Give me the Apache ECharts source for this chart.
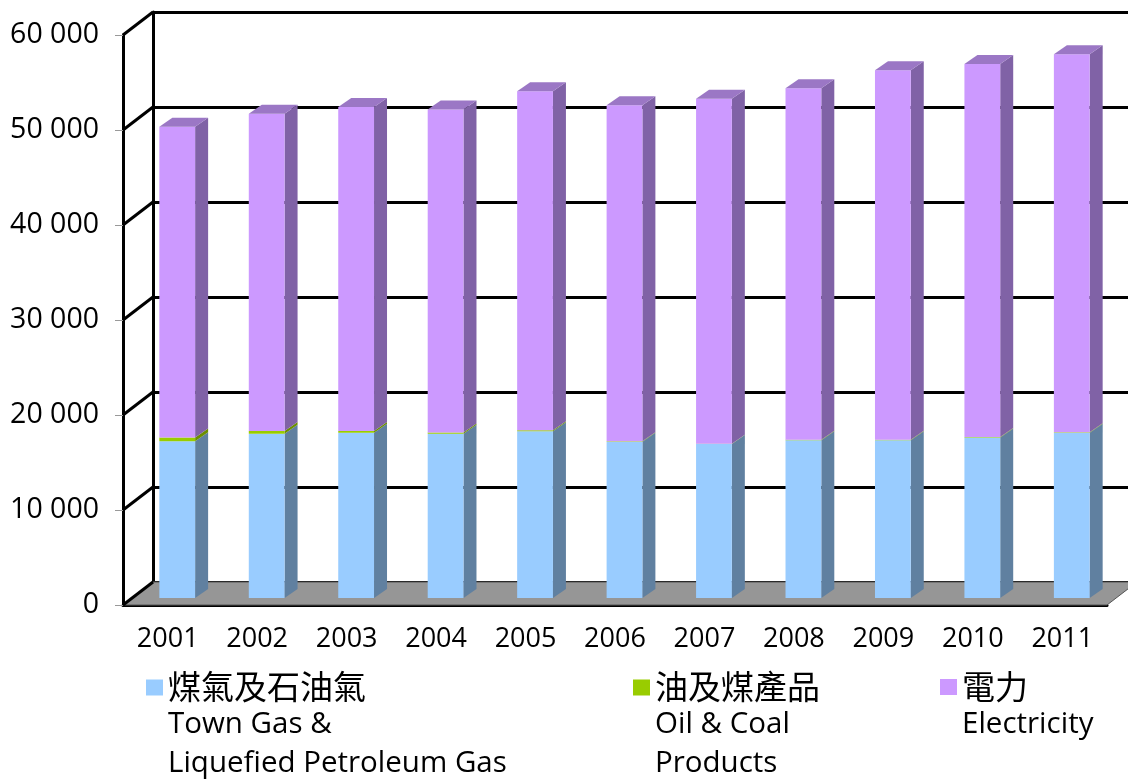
<!DOCTYPE html>
<html>
<head>
<meta charset="utf-8">
<script src="https://cdn.jsdelivr.net/npm/echarts@6/dist/echarts.min.js"></script>
<style>
  html, body { margin: 0; padding: 0; background: #fff; }
  #chart { width: 1128px; height: 780px; }
</style>
</head>
<body>
<div id="chart"></div>
<script>
  // data
  var years = ['2001', '2002', '2003', '2004', '2005', '2006', '2007', '2008', '2009', '2010', '2011']
  var townGas = [16500, 17300, 17400, 17300, 17550, 16450, 16200, 16600, 16600, 16900, 17400]
  var oilCoal = [400, 270, 180, 120, 100, 60, 50, 50, 50, 50, 50]
  var electricity = [32700, 33400, 34100, 34000, 35700, 35350, 36300, 37000, 38900, 39250, 39800]
  var yTicks = [0, 10000, 20000, 30000, 40000, 50000, 60000]

  // fake 3d look
  var DEPTH_X = 30, DEPTH_Y = -23   // back wall offset
  var DX = 9.5, DY = -7             // bar front face offset
  var SX = 13, SY = -9              // bar side depth

  var chart = echarts.init(document.getElementById('chart'))

  function stackData(vals, bases) {
    return vals.map(function (v, i) {
      var b = 0
      bases.forEach(function (arr) { b += arr[i] })
      return [i, b, b + v]
    })
  }

  function barSeries(name, vals, bases, front, side, top, isTop) {
    return {
      type: 'custom',
      name: name,
      xAxisIndex: 0,
      yAxisIndex: 0,
      z: 3,
      itemStyle: { color: front },
      encode: { x: 0, y: [1, 2] },
      data: stackData(vals, bases),
      renderItem: function (params, api) {
        var lo = api.coord([api.value(0), api.value(1)])
        var hi = api.coord([api.value(0), api.value(2)])
        var w = api.size([1, 0])[0] * 0.4
        var xl = lo[0] - w / 2 + DX, xr = xl + w
        var yb = lo[1] + DY, yt = hi[1] + DY
        var kids = [
          { type: 'polygon', shape: { points: [[xr, yt], [xr + SX, yt + SY], [xr + SX, yb + SY], [xr, yb]] },
            style: { fill: side } },
          { type: 'rect', shape: { x: xl, y: yt, width: w, height: yb - yt }, style: { fill: front } }
        ]
        if (isTop) {
          kids.push({ type: 'polygon', shape: { points: [[xl, yt], [xl + SX, yt + SY], [xr + SX, yt + SY], [xr, yt]] },
            style: { fill: top } })
        }
        return { type: 'group', children: kids }
      }
    }
  }

  var legendNames = {
    gas: '{cn|煤氣及石油氣}\n{en|Town Gas &}\n{en|Liquefied Petroleum Gas}',
    oil: '{cn|油及煤產品}\n{en|Oil & Coal}\n{en|Products}',
    elec: '{cn|電力}\n{en|Electricity}'
  }
  var rich = {
    cn: { fontSize: 33, lineHeight: 38, color: '#000', fontFamily: 'Noto Sans CJK TC' },
    en: { fontSize: 29.5, lineHeight: 39, color: '#000', fontFamily: 'Open Sans' }
  }
  function legendItem(name, left, lines) {
    return {
      data: [name], left: left, top: 670, padding: 0,
      icon: 'rect', itemWidth: 17, itemHeight: 16, selectedMode: false,
      formatter: function (n) { return legendNames[n] },
      textStyle: { padding: [lines * 38 - 38, 0, 0, 0], rich: rich }
    }
  }

  var option = {
    backgroundColor: '#fff',
    animation: false,
    textStyle: { fontFamily: 'Open Sans' },
    grid: [
      { left: 123, right: 21, top: 35, bottom: 175 },
      { left: 153, right: 0, top: 12, bottom: 198 }
    ],
    xAxis: [
      {
        type: 'category', gridIndex: 0, data: years,
        axisLine: { lineStyle: { color: '#000', width: 3 } },
        axisTick: { length: 9, lineStyle: { color: '#aaa', width: 1 } },
        axisLabel: { fontSize: 27, color: '#000', margin: 21 }
      },
      { type: 'category', gridIndex: 1, data: years, show: false }
    ],
    yAxis: [
      {
        type: 'value', gridIndex: 0, min: 0, max: 60000, interval: 10000,
        axisLine: { show: true, lineStyle: { color: '#000', width: 3 } },
        axisTick: { show: true, length: 8, lineStyle: { color: '#999', width: 1 } },
        splitLine: { show: false },
        axisLabel: {
          fontSize: 28.5, color: '#000', margin: 24,
          formatter: function (v) { return v === 0 ? '0' : (v / 1000) + ' 000' }
        }
      },
      {
        type: 'value', gridIndex: 1, min: 0, max: 60000, interval: 10000,
        axisLine: { show: true, lineStyle: { color: '#000', width: 3 } },
        axisTick: { show: false }, axisLabel: { show: false },
        splitLine: { show: true, lineStyle: { color: '#000', width: 3 } }
      }
    ],
    legend: [
      legendItem('gas', 146, 3),
      legendItem('oil', 633, 3),
      legendItem('elec', 940, 2)
    ],
    series: [
      // floor
      {
        type: 'custom', name: 'floor', z: 1, silent: true,
        data: [[0, 0]],
        renderItem: function (params, api) {
          var cs = params.coordSys
          var y0 = cs.y + cs.height, x0 = cs.x, x1 = cs.x + cs.width
          return {
            type: 'polygon',
            shape: { points: [[x0, y0], [x1, y0], [x1 + DEPTH_X, y0 + DEPTH_Y], [x0 + DEPTH_X, y0 + DEPTH_Y]] },
            style: { fill: '#969696', stroke: '#555', lineWidth: 1 }
          }
        }
      },
      // diagonal joins from front axis to back wall
      {
        type: 'custom', name: 'frame', z: 4, silent: true,
        data: yTicks.map(function (v) { return [0, v] }),
        renderItem: function (params, api) {
          var cs = params.coordSys
          var y = api.coord([0, api.value(1)])[1]
          return {
            type: 'line',
            shape: { x1: cs.x, y1: y, x2: cs.x + DEPTH_X, y2: y + DEPTH_Y },
            style: { stroke: '#000', lineWidth: 3 }
          }
        }
      },
      barSeries('gas', townGas, [], '#99ccff', '#6080a0', '#99ccff', false),
      barSeries('oil', oilCoal, [townGas], '#99cc00', '#6b8f00', '#99cc00', false),
      barSeries('elec', electricity, [townGas, oilCoal], '#cc99ff', '#8062a6', '#9b77c5', true)
    ]
  }

  chart.setOption(option)
</script>
</body>
</html>
